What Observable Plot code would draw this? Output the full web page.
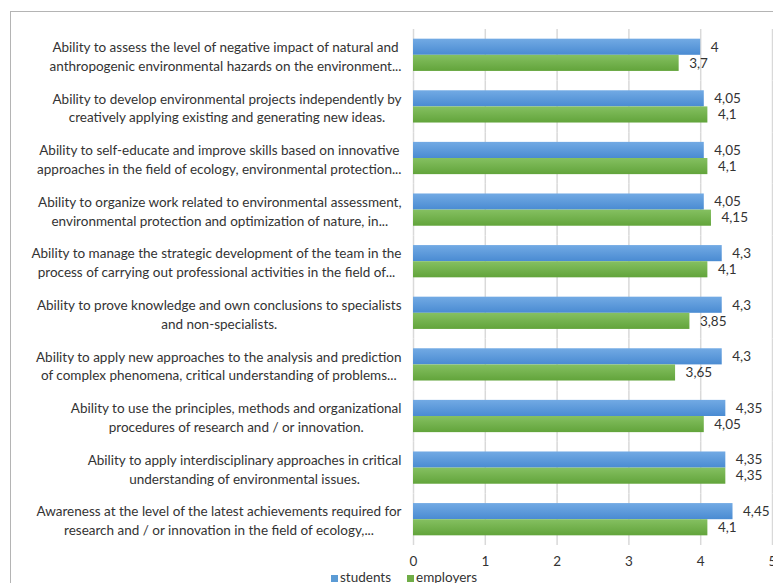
<!DOCTYPE html>
<html><head><meta charset="utf-8">
<script src="https://cdn.jsdelivr.net/npm/d3@7"></script>
<script src="https://cdn.jsdelivr.net/npm/@observablehq/plot@0.6"></script>
<style>
body{margin:0;background:#fff;font-family:Lato,sans-serif;overflow:hidden;width:773px;height:583px}
#frame{position:absolute;left:10px;top:11px;width:820px;height:620px;border:1.5px solid #b4b4b4;box-sizing:border-box}
#chart{position:absolute;left:0;top:0}
#legend{position:absolute;left:331px;top:570px;display:flex;gap:16px;font-size:13.5px;line-height:14px;color:#333}
#legend span.sw{display:inline-block;width:7px;height:7px;margin-right:2px;vertical-align:0px}
</style></head>
<body>
<div id="frame"></div>
<div id="chart"></div>
<div id="legend"></div>
<script>
const categories = [
  "Ability to assess the level of negative impact of natural and\nanthropogenic environmental hazards on the environment...",
  "Ability to develop environmental projects independently by\ncreatively applying existing and generating new ideas.",
  "Ability to self-educate and improve skills based on innovative\napproaches in the field of ecology, environmental protection...",
  "Ability to organize work related to environmental assessment,\nenvironmental protection and optimization of nature, in...",
  "Ability to manage the strategic development of the team in the\nprocess of carrying out professional activities in the field of...",
  "Ability to prove knowledge and own conclusions to specialists\nand non-specialists.",
  "Ability to apply new approaches to the analysis and prediction\nof complex phenomena, critical understanding of problems...",
  "Ability to use the principles, methods and organizational\nprocedures of research and / or innovation.",
  "Ability to apply interdisciplinary approaches in critical\nunderstanding of environmental issues.",
  "Awareness at the level of the latest achievements required for\nresearch and / or innovation in the field of ecology,..."
];
const students  = [4, 4.05, 4.05, 4.05, 4.3, 4.3, 4.3, 4.35, 4.35, 4.45];
const employers = [3.7, 4.1, 4.1, 4.15, 4.1, 3.85, 3.65, 4.05, 4.35, 4.1];
const seriesNames = ["students", "employers"];
const xTicks = [0, 1, 2, 3, 4, 5];
const seriesColors = ["#5b9bd5", "#70ad47"];

const data = [];
categories.forEach((c, i) => {
  data.push({cat: c, series: "students", value: students[i]});
  data.push({cat: c, series: "employers", value: employers[i]});
});

const FONT = "Lato, 'Open Sans', sans-serif";
const chart = Plot.plot({
  width: 773, height: 570,
  marginLeft: 413, marginRight: 1, marginTop: 29, marginBottom: 25,
  x: {domain: [0, 5]},
  y: {domain: seriesNames, axis: null, paddingInner: 0, paddingOuter: 0.6, round: false},
  fy: {domain: categories, padding: 0, round: false},
  color: {domain: seriesNames, range: ["url(#gb)", "url(#gg)"]},
  style: {fontFamily: FONT, fontSize: "13.5px", color: "#333", background: "transparent"},
  marks: [
    Plot.gridX({ticks: xTicks, stroke: "#d9d9d9", strokeOpacity: 1, strokeWidth: 1.5}),
    Plot.barX(data, {fy: "cat", y: "series", x: "value", fill: "series"}),
    Plot.text(data, {fy: "cat", y: "series", x: "value", text: d => String(d.value).replace(".", ","), dx: 10, textAnchor: "start", fill: "#333"}),
    Plot.axisX({ticks: xTicks, tickSize: 0, tickPadding: 11, tickFormat: d => String(d), fontSize: "13.5px", label: null}),
    Plot.axisFy({anchor: "left", tickSize: 0, tickPadding: 12, label: null, lineHeight: 1.4, fontSize: "13.5px"})
  ]
});
document.getElementById("chart").appendChild(chart);

// gradients
const svg = d3.select(chart);
const defs = svg.insert("defs", ":first-child");
const gb = defs.append("linearGradient").attr("id", "gb").attr("x1", 0).attr("y1", 0).attr("x2", 0).attr("y2", 1);
gb.append("stop").attr("offset", "0%").attr("stop-color", "#72aae4");
gb.append("stop").attr("offset", "100%").attr("stop-color", "#4a8bd2");
const gg = defs.append("linearGradient").attr("id", "gg").attr("x1", 0).attr("y1", 0).attr("x2", 0).attr("y2", 1);
gg.append("stop").attr("offset", "0%").attr("stop-color", "#85c061");
gg.append("stop").attr("offset", "100%").attr("stop-color", "#62a43b");

// center lines of each category label within its block (right-aligned block)
chart.querySelectorAll('g[aria-label="fy-axis tick label"] text').forEach(t => {
  const spans = Array.from(t.querySelectorAll("tspan"));
  if (!spans.length) return;
  const w = Math.max(...spans.map(s => s.getComputedTextLength()));
  t.setAttribute("text-anchor", "middle");
  spans.forEach(s => s.setAttribute("x", -w / 2));
});

// legend
const lg = d3.select("#legend");
seriesNames.forEach((s, i) => {
  const item = lg.append("div");
  item.append("span").attr("class", "sw").style("background", seriesColors[i]);
  item.append("span").text(s);
});
</script>
</body></html>
